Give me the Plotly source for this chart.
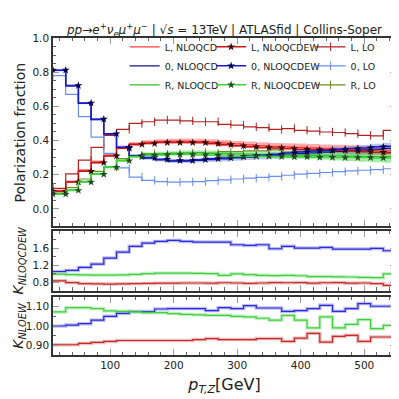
import plotly.graph_objects as go

# pT,Z bin edges [GeV]
pt_edges = [10, 30, 50, 70, 90, 110, 130, 150, 170, 190, 210, 230, 250, 270,
            290, 310, 330, 350, 370, 390, 410, 430, 450, 470, 490, 510, 530, 550]

# polarization fractions per bin, NLO QCD
frac_L_qcd = [0.105, 0.16, 0.225, 0.275, 0.315, 0.36, 0.38, 0.39, 0.395, 0.397, 0.397, 0.395, 0.39, 0.385,
              0.38, 0.375, 0.37, 0.366, 0.363, 0.36, 0.357, 0.354, 0.351, 0.348, 0.345, 0.342, 0.34]
frac_0_qcd = [0.81, 0.72, 0.618, 0.523, 0.438, 0.358, 0.308, 0.297, 0.287, 0.28, 0.28, 0.284, 0.289, 0.293,
              0.298, 0.303, 0.307, 0.312, 0.318, 0.323, 0.328, 0.332, 0.337, 0.341, 0.345, 0.35, 0.354]
frac_R_qcd = [0.088, 0.11, 0.16, 0.205, 0.245, 0.284, 0.31, 0.32, 0.323, 0.326, 0.328, 0.328, 0.326, 0.324,
              0.322, 0.32, 0.318, 0.317, 0.316, 0.315, 0.314, 0.312, 0.31, 0.309, 0.307, 0.306, 0.305]
# scale uncertainty (half width) of the NLO QCD fractions
unc_L_qcd = [0.008, 0.008, 0.009, 0.01, 0.01, 0.011, 0.012, 0.012, 0.013, 0.014, 0.015, 0.016, 0.017, 0.018,
             0.018, 0.019, 0.02, 0.02, 0.021, 0.022, 0.022, 0.023, 0.024, 0.025, 0.025, 0.026, 0.027]
unc_0_qcd = [0.006, 0.006, 0.006, 0.006, 0.006, 0.007, 0.008, 0.009, 0.01, 0.011, 0.012, 0.013, 0.014, 0.015,
             0.016, 0.017, 0.018, 0.019, 0.02, 0.021, 0.023, 0.024, 0.026, 0.027, 0.029, 0.031, 0.033]
unc_R_qcd = [0.006, 0.006, 0.007, 0.008, 0.008, 0.009, 0.01, 0.01, 0.011, 0.012, 0.013, 0.014, 0.015, 0.016,
             0.017, 0.018, 0.019, 0.02, 0.021, 0.022, 0.024, 0.025, 0.027, 0.029, 0.031, 0.033, 0.035]

# NLO QCD+EW
frac_L_ew = [0.103, 0.157, 0.22, 0.27, 0.31, 0.355, 0.377, 0.382, 0.388, 0.388, 0.388, 0.388, 0.382, 0.376,
             0.369, 0.363, 0.359, 0.357, 0.353, 0.349, 0.347, 0.345, 0.343, 0.339, 0.335, 0.331, 0.329]
frac_0_ew = [0.812, 0.722, 0.62, 0.525, 0.44, 0.36, 0.31, 0.30, 0.29, 0.283, 0.283, 0.288, 0.294, 0.298,
             0.304, 0.31, 0.314, 0.32, 0.327, 0.333, 0.339, 0.343, 0.349, 0.353, 0.357, 0.363, 0.367]
frac_R_ew = [0.086, 0.108, 0.157, 0.202, 0.243, 0.282, 0.305, 0.313, 0.316, 0.318, 0.318, 0.316, 0.314, 0.31,
             0.308, 0.308, 0.308, 0.306, 0.304, 0.304, 0.302, 0.302, 0.30, 0.30, 0.30, 0.298, 0.298]

# LO
frac_L_lo = [0.12, 0.205, 0.285, 0.36, 0.43, 0.465, 0.50, 0.51, 0.52, 0.52, 0.515, 0.51, 0.51, 0.495,
             0.49, 0.48, 0.475, 0.465, 0.47, 0.46, 0.455, 0.45, 0.447, 0.44, 0.43, 0.427, 0.46]
frac_0_lo = [0.78, 0.67, 0.54, 0.42, 0.325, 0.24, 0.186, 0.167, 0.16, 0.157, 0.158, 0.16, 0.165, 0.17,
             0.175, 0.18, 0.185, 0.19, 0.197, 0.203, 0.208, 0.213, 0.218, 0.222, 0.226, 0.23, 0.235]
frac_R_lo = [0.10, 0.125, 0.175, 0.22, 0.245, 0.295, 0.314, 0.323, 0.32, 0.323, 0.327, 0.33, 0.325, 0.335,
             0.335, 0.34, 0.34, 0.345, 0.333, 0.337, 0.337, 0.337, 0.335, 0.338, 0.344, 0.343, 0.305]

# K factors NLOQCDEW
k_qcdew_0 = [1.05, 1.075, 1.145, 1.224, 1.365, 1.506, 1.64, 1.718, 1.757, 1.78, 1.757, 1.741, 1.741, 1.741,
             1.678, 1.663, 1.678, 1.584, 1.64, 1.60, 1.60, 1.616, 1.576, 1.576, 1.576, 1.592, 1.537]
k_qcdew_R = [0.99, 0.975, 0.97, 0.965, 0.965, 0.97, 0.98, 1.0, 1.01, 1.01, 1.01, 1.005, 1.0, 0.96,
             0.995, 0.975, 0.96, 0.955, 0.96, 0.95, 0.93, 0.93, 0.925, 0.92, 0.91, 0.905, 0.995]
k_qcdew_L = [0.83, 0.79, 0.765, 0.76, 0.755, 0.76, 0.765, 0.77, 0.775, 0.775, 0.78, 0.78, 0.775, 0.785,
             0.78, 0.77, 0.78, 0.79, 0.785, 0.79, 0.775, 0.785, 0.79, 0.775, 0.78, 0.765, 0.725]

# K factors NLOEW
k_ew_0 = [1.0, 1.005, 1.012, 1.03, 1.05, 1.065, 1.075, 1.075, 1.088, 1.09, 1.09, 1.09, 1.08, 1.095,
          1.09, 1.105, 1.093, 1.093, 1.076, 1.08, 1.09, 1.107, 1.076, 1.09, 1.116, 1.102, 1.102]
k_ew_R = [1.073, 1.095, 1.095, 1.09, 1.078, 1.076, 1.073, 1.069, 1.069, 1.064, 1.06, 1.058, 1.055, 1.055,
          1.05, 1.047, 1.04, 1.03, 1.055, 1.03, 0.99, 1.047, 0.99, 1.008, 1.033, 0.986, 1.003]
k_ew_L = [0.903, 0.903, 0.91, 0.915, 0.92, 0.925, 0.925, 0.925, 0.925, 0.925, 0.925, 0.93, 0.935, 0.93,
          0.93, 0.93, 0.935, 0.935, 0.92, 0.937, 0.962, 0.917, 0.946, 0.952, 0.92, 0.943, 0.943]

FONT = "DejaVu Sans"


def steps(vals):
    # repeat first value so 'vh' steps draw each bin with its point on the right edge
    return [vals[0]] + list(vals)


fig = go.Figure()

# uncertainty bands of NLO QCD
bands = [
    (frac_L_qcd, unc_L_qcd, "rgba(255,70,70,0.45)"),
    (frac_0_qcd, unc_0_qcd, "rgba(90,125,205,0.40)"),
    (frac_R_qcd, unc_R_qcd, "rgba(60,210,60,0.45)"),
]
for vals, unc, fc in bands:
    lo = [v - u for v, u in zip(vals, unc)]
    hi = [v + u for v, u in zip(vals, unc)]
    fig.add_trace(go.Scatter(x=pt_edges, y=steps(lo), mode="lines", line=dict(width=0, shape="vh"),
                             showlegend=False, hoverinfo="skip"))
    fig.add_trace(go.Scatter(x=pt_edges, y=steps(hi), mode="lines", line=dict(width=0, shape="vh"),
                             fill="tonexty", fillcolor=fc, showlegend=False, hoverinfo="skip"))

# LO
lo_series = [("L, LO", frac_L_lo, "#b22222"), ("0, LO", frac_0_lo, "#6a8ff0"), ("R, LO", frac_R_lo, "#6b8e23")]
for name, vals, c in lo_series:
    fig.add_trace(go.Scatter(
        x=pt_edges, y=steps(vals), name=name, legend="legend3", mode="lines+markers",
        line=dict(color=c, width=1.2, shape="vh"),
        marker=dict(symbol="line-ns", size=6, line=dict(color=c, width=1)),
    ))

# NLO QCD
qcd_series = [("L, NLOQCD", frac_L_qcd, "#ff3b3b"), ("0, NLOQCD", frac_0_qcd, "#14148c"),
              ("R, NLOQCD", frac_R_qcd, "#2fbf2f")]
for name, vals, c in qcd_series:
    fig.add_trace(go.Scatter(x=pt_edges, y=steps(vals), name=name, legend="legend", mode="lines",
                             line=dict(color=c, width=1.3, shape="vh")))

# NLO QCD+EW with stars
ew_series = [("L, NLOQCDEW", frac_L_ew, "#c01818", "#3a0000"),
             ("0, NLOQCDEW", frac_0_ew, "#1818d0", "#000050"),
             ("R, NLOQCDEW", frac_R_ew, "#40d040", "#1e4d1e")]
for name, vals, c, mc in ew_series:
    fig.add_trace(go.Scatter(
        x=pt_edges, y=steps(vals), name=name, legend="legend2", mode="lines+markers",
        line=dict(color=c, width=1.5, shape="vh"),
        marker=dict(symbol="star", size=6, color=mc, line=dict(width=0)),
    ))

# K factor panels
k_panels = [
    ("y2", [(k_qcdew_0, "#2b2bd9"), (k_qcdew_R, "#3fcf3f"), (k_qcdew_L, "#c42a2a")]),
    ("y3", [(k_ew_0, "#2b2bd9"), (k_ew_R, "#3fcf3f"), (k_ew_L, "#c42a2a")]),
]
for ya, series in k_panels:
    for vals, c in series:
        fig.add_trace(go.Scatter(x=pt_edges, y=steps(vals), yaxis=ya, mode="lines",
                                 line=dict(color=c, width=3.5, shape="vh"), opacity=0.3,
                                 showlegend=False, hoverinfo="skip"))
        fig.add_trace(go.Scatter(x=pt_edges, y=steps(vals), yaxis=ya, mode="lines",
                                 line=dict(color=c, width=1.2, shape="vh"), showlegend=False))

axis_style = dict(
    showline=True, mirror="allticks", linecolor="#333", linewidth=1.5,
    ticks="inside", ticklen=6, tickcolor="#999", tickwidth=1.2,
    showgrid=False, zeroline=False,
    tickfont=dict(family=FONT, size=10.5, color="#222"),
)
x_common = dict(axis_style, range=[10, 550], tick0=0, dtick=100,
                minor=dict(ticks="inside", ticklen=3.5, tickcolor="#666", dtick=20, tick0=0))
y_minor = dict(ticks="inside", ticklen=3.5, tickcolor="#666")

legend_common = dict(font=dict(family=FONT, size=9.5, color="#222"), bgcolor="rgba(0,0,0,0)",
                     xanchor="left", yanchor="top", y=1.018, itemwidth=30, tracegroupgap=0,
                     traceorder="normal")

main_dom = [0.407, 1.0]
k1_dom = [0.203, 0.391]
k2_dom = [0.0, 0.183]

fig.update_layout(
    width=399, height=399,
    margin=dict(l=45, r=9, t=30, b=52),
    plot_bgcolor="white", paper_bgcolor="white",
    font=dict(family=FONT, color="#222"),
    title=dict(
        text="<i>pp</i>→<i>e</i><sup>+</sup><i>ν</i><sub><i>e</i></sub><i>μ</i><sup>+</sup><i>μ</i><sup>−</sup>"
             " | √<i>s</i> = 13TeV | ATLASfid | Collins-Soper",
        font=dict(family=FONT, size=12, color="#222"),
        x=0.5, xref="paper", y=1 - 22 / 399, yref="container", yanchor="middle",
    ),
    xaxis=dict(x_common, anchor="y3", domain=[0, 1],
               title=dict(text="<i>p</i><sub><i>T,Z</i></sub>[GeV]", font=dict(family=FONT, size=16),
                          standoff=8)),
    xaxis2=dict(x_common, anchor="y", matches="x", showticklabels=False, overlaying="x"),
    xaxis4=dict(x_common, anchor="y2", matches="x", showticklabels=False, overlaying="x"),
    yaxis=dict(axis_style, anchor="x2", domain=main_dom, range=[-0.1, 1.0],
               tickvals=[0.0, 0.2, 0.4, 0.6, 0.8, 1.0], tickformat=".1f", minor=dict(y_minor, dtick=0.05)),
    yaxis2=dict(axis_style, anchor="x4", domain=k1_dom, range=[0.6, 2.0],
                tickvals=[0.8, 1.2, 1.6], tickformat=".1f", minor=dict(y_minor, dtick=0.2, tick0=0.6)),
    yaxis3=dict(axis_style, anchor="x", domain=k2_dom, range=[0.85, 1.15],
                tickvals=[0.9, 1.0, 1.1], tickformat=".2f", minor=dict(y_minor, dtick=0.05, tick0=0.85)),
    legend=dict(legend_common, x=0.209),
    legend2=dict(legend_common, x=0.461),
    legend3=dict(legend_common, x=0.751),
    annotations=[
        dict(text="Polarization fraction", xref="paper", yref="paper", x=-0.095,
             y=sum(main_dom) / 2, textangle=-90, showarrow=False, xanchor="center", yanchor="middle",
             font=dict(family=FONT, size=14, color="#222")),
        dict(text="<i>K</i><sub><i>NLOQCDEW</i></sub>", xref="paper", yref="paper", x=-0.1,
             y=sum(k1_dom) / 2, textangle=-90, showarrow=False, xanchor="center", yanchor="middle",
             font=dict(family=FONT, size=14, color="#222")),
        dict(text="<i>K</i><sub><i>NLOEW</i></sub>", xref="paper", yref="paper", x=-0.1,
             y=sum(k2_dom) / 2, textangle=-90, showarrow=False, xanchor="center", yanchor="middle",
             font=dict(family=FONT, size=14, color="#222")),
    ],
)

# main panel traces use an unlabelled x axis, middle panel too, bottom panel carries the labels
for tr in fig.data:
    if tr.yaxis in (None, "y"):
        tr.xaxis = "x2"
    elif tr.yaxis == "y2":
        tr.xaxis = "x4"
    else:
        tr.xaxis = "x"

fig.write_html("out.html")
